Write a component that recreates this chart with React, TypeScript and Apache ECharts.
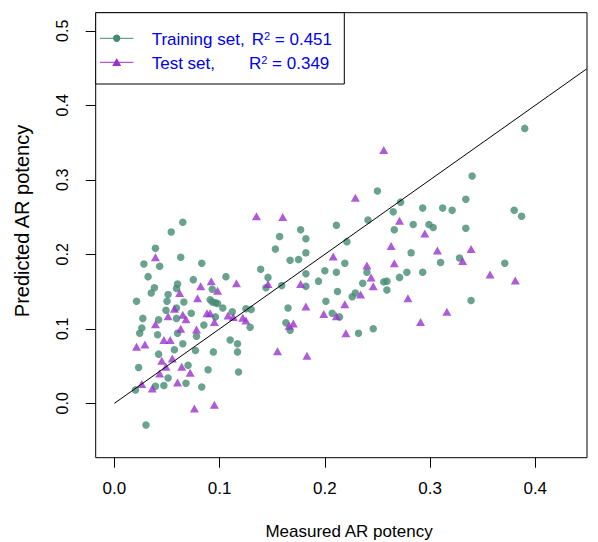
import React, { useEffect, useRef } from "react";
import * as echarts from "echarts";

const xTicks = [0, 0.1, 0.2, 0.3, 0.4];
const yTicks = [0, 0.1, 0.2, 0.3, 0.4, 0.5];
const xTitle = "Measured AR potency";
const yTitle = "Predicted AR potency";
const trainLabel = "Training set,";
const testLabel = "Test set,";
const trainR2 = "0.451";
const testR2 = "0.349";

const trainingSet: [number, number][] = [
  [0.065, 0.243], [0.054, 0.230], [0.039, 0.208], [0.028, 0.187], [0.043, 0.184],
  [0.063, 0.196], [0.083, 0.188], [0.032, 0.170], [0.075, 0.166], [0.060, 0.160],
  [0.038, 0.155], [0.035, 0.148], [0.051, 0.146], [0.059, 0.154], [0.021, 0.137],
  [0.050, 0.137], [0.066, 0.136], [0.093, 0.153], [0.106, 0.170], [0.091, 0.139],
  [0.093, 0.136], [0.096, 0.135], [0.098, 0.134], [0.103, 0.128], [0.049, 0.125],
  [0.059, 0.128], [0.073, 0.121], [0.112, 0.123], [0.125, 0.127], [0.130, 0.126],
  [0.027, 0.114], [0.042, 0.112], [0.059, 0.114], [0.085, 0.105], [0.096, 0.116],
  [0.026, 0.101], [0.024, 0.094], [0.041, 0.092], [0.060, 0.094], [0.078, 0.090],
  [0.110, 0.085], [0.117, 0.080], [0.117, 0.069], [0.094, 0.069], [0.065, 0.080],
  [0.057, 0.072], [0.042, 0.066], [0.077, 0.071], [0.129, 0.102], [0.023, 0.048],
  [0.070, 0.051], [0.089, 0.045], [0.118, 0.042], [0.051, 0.034], [0.047, 0.024],
  [0.068, 0.027], [0.083, 0.022], [0.039, 0.023], [0.020, 0.018], [0.030, -0.029],
  [0.139, 0.180], [0.177, 0.233], [0.157, 0.224], [0.182, 0.221], [0.153, 0.207],
  [0.182, 0.202], [0.167, 0.192], [0.175, 0.193], [0.146, 0.169], [0.200, 0.178],
  [0.182, 0.174], [0.194, 0.164], [0.144, 0.155], [0.159, 0.158], [0.182, 0.157],
  [0.211, 0.239], [0.221, 0.217], [0.219, 0.188], [0.211, 0.176], [0.212, 0.150],
  [0.165, 0.128], [0.201, 0.137], [0.207, 0.121], [0.214, 0.116], [0.163, 0.108],
  [0.167, 0.098], [0.232, 0.094], [0.246, 0.100], [0.229, 0.148], [0.226, 0.143],
  [0.236, 0.161], [0.240, 0.176], [0.241, 0.246], [0.250, 0.285], [0.272, 0.270],
  [0.293, 0.262], [0.265, 0.257], [0.266, 0.233], [0.284, 0.240], [0.299, 0.240],
  [0.303, 0.236], [0.282, 0.202], [0.278, 0.176], [0.293, 0.176], [0.271, 0.169],
  [0.256, 0.163], [0.259, 0.164], [0.259, 0.152], [0.390, 0.369], [0.340, 0.305],
  [0.334, 0.274], [0.312, 0.262], [0.321, 0.259], [0.380, 0.259], [0.387, 0.251],
  [0.334, 0.235], [0.328, 0.195], [0.310, 0.189], [0.371, 0.188], [0.339, 0.138],
];

const testSet: [number, number][] = [
  [0.135, 0.251], [0.039, 0.196], [0.062, 0.148], [0.082, 0.157], [0.092, 0.164],
  [0.098, 0.151], [0.116, 0.161], [0.079, 0.141], [0.057, 0.127], [0.051, 0.117],
  [0.065, 0.119], [0.068, 0.113], [0.088, 0.121], [0.091, 0.121], [0.095, 0.109],
  [0.108, 0.118], [0.113, 0.116], [0.122, 0.115], [0.125, 0.111], [0.039, 0.106],
  [0.063, 0.100], [0.078, 0.099], [0.021, 0.076], [0.029, 0.079], [0.047, 0.085],
  [0.053, 0.085], [0.045, 0.057], [0.055, 0.060], [0.049, 0.049], [0.064, 0.049],
  [0.072, 0.041], [0.043, 0.040], [0.060, 0.028], [0.026, 0.026], [0.036, 0.020],
  [0.076, -0.007], [0.095, -0.002], [0.256, 0.340], [0.229, 0.276], [0.160, 0.250],
  [0.271, 0.245], [0.295, 0.228], [0.263, 0.211], [0.208, 0.197], [0.240, 0.185],
  [0.266, 0.188], [0.244, 0.169], [0.246, 0.157], [0.146, 0.160], [0.177, 0.160],
  [0.234, 0.146], [0.279, 0.141], [0.219, 0.133], [0.182, 0.130], [0.199, 0.120],
  [0.211, 0.117], [0.166, 0.104], [0.170, 0.107], [0.291, 0.109], [0.220, 0.094],
  [0.155, 0.070], [0.183, 0.064], [0.307, 0.205], [0.339, 0.207], [0.331, 0.191],
  [0.357, 0.173], [0.381, 0.165], [0.316, 0.123],
];

const identityLine: [number, number][] = [[0, 0], [0.449, 0.449]];

const GREEN = "#458B74";
const PURPLE = "#9A32CD";
const FONT = "Liberation Sans, Arial, sans-serif";

export default function App() {
  const ref = useRef<HTMLDivElement>(null);
  useEffect(() => {
    if (!ref.current) return;
    const chart = echarts.init(ref.current, undefined, { renderer: "svg" });
    const gl = 95.7, gt = 12.7, gw = 491.3, gh = 445;
    chart.setOption({
      animation: false,
      backgroundColor: "#fff",
      textStyle: { fontFamily: FONT },
      grid: { left: gl, top: gt, width: gw, height: gh, show: true, borderColor: "#000", borderWidth: 1, backgroundColor: "transparent" },
      xAxis: {
        type: "value",
        min: -0.0178,
        max: 0.4492,
        axisLine: { show: false, onZero: false },
        splitLine: { show: false },
        axisTick: { show: true, inside: false, length: 10, customValues: xTicks, lineStyle: { color: "#000", width: 1 } },
        axisLabel: { customValues: xTicks, formatter: (v: number) => v.toFixed(1), color: "#000", fontSize: 17, margin: 22, fontFamily: FONT },
      },
      yAxis: {
        type: "value",
        min: -0.073,
        max: 0.5243,
        axisLine: { show: false, onZero: false },
        splitLine: { show: false },
        axisTick: { show: true, inside: false, length: 10, customValues: yTicks, lineStyle: { color: "#000", width: 1 } },
        axisLabel: { customValues: yTicks, formatter: (v: number) => v.toFixed(1), color: "#000", fontSize: 16, rotate: 90, margin: 25, fontFamily: FONT },
      },
      series: [
        {
          type: "scatter",
          data: trainingSet,
          symbol: "circle",
          symbolSize: 7.5,
          itemStyle: { color: GREEN },
          z: 2,
        },
        {
          type: "scatter",
          data: testSet,
          symbol: "triangle",
          symbolSize: [9, 8],
          itemStyle: { color: PURPLE },
          z: 3,
        },
        {
          type: "line",
          data: identityLine,
          showSymbol: false,
          symbol: "none",
          lineStyle: { color: "#000", width: 1 },
          clip: true,
          z: 4,
        },
      ],
      graphic: [
        { type: "text", x: 349, y: 531, style: { text: xTitle, fontSize: 17, fontFamily: FONT, fill: "#000", align: "center", verticalAlign: "middle" } },
        { type: "text", x: 22, y: 221, rotation: Math.PI / 2, style: { text: yTitle, fontSize: 20, fontFamily: FONT, fill: "#000", align: "center", verticalAlign: "middle" } },
        { type: "rect", shape: { x: 95.7, y: 12.7, width: 248.6, height: 71.3 }, style: { fill: "#fff", stroke: "#000", lineWidth: 1 }, z: 10 },
        { type: "line", shape: { x1: 100, y1: 38.3, x2: 133.3, y2: 38.3 }, style: { stroke: GREEN, lineWidth: 1 }, z: 11 },
        { type: "circle", shape: { cx: 116.7, cy: 38.3, r: 3.7 }, style: { fill: GREEN }, z: 11 },
        { type: "line", shape: { x1: 100, y1: 62.3, x2: 133.3, y2: 62.3 }, style: { stroke: PURPLE, lineWidth: 1 }, z: 11 },
        { type: "polygon", shape: { points: [[116.7, 58], [121.2, 66], [112.2, 66]] }, style: { fill: PURPLE }, z: 11 },
        { type: "text", x: 151.7, y: 39.5, style: { text: trainLabel, fontSize: 17, fontFamily: FONT, fill: "#0000EE", verticalAlign: "middle" }, z: 11 },
        { type: "text", x: 251.7, y: 39.5, style: { text: "R{sup|2} = " + trainR2, fontSize: 17, fontFamily: FONT, fill: "#0000EE", verticalAlign: "middle", rich: { sup: { fontSize: 11, verticalAlign: "top", fill: "#0000EE", fontFamily: FONT, padding: [0, 0, 8, 0] } } }, z: 11 },
        { type: "text", x: 151.7, y: 63.5, style: { text: testLabel, fontSize: 17, fontFamily: FONT, fill: "#0000EE", verticalAlign: "middle" }, z: 11 },
        { type: "text", x: 249, y: 63.5, style: { text: "R{sup|2} = " + testR2, fontSize: 17, fontFamily: FONT, fill: "#0000EE", verticalAlign: "middle", rich: { sup: { fontSize: 11, verticalAlign: "top", fill: "#0000EE", fontFamily: FONT, padding: [0, 0, 8, 0] } } }, z: 11 },
      ],
    });
    return () => chart.dispose();
  }, []);
  return <div ref={ref} style={{ position: "absolute", left: 0, top: 0, width: 598, height: 542 }} />;
}
